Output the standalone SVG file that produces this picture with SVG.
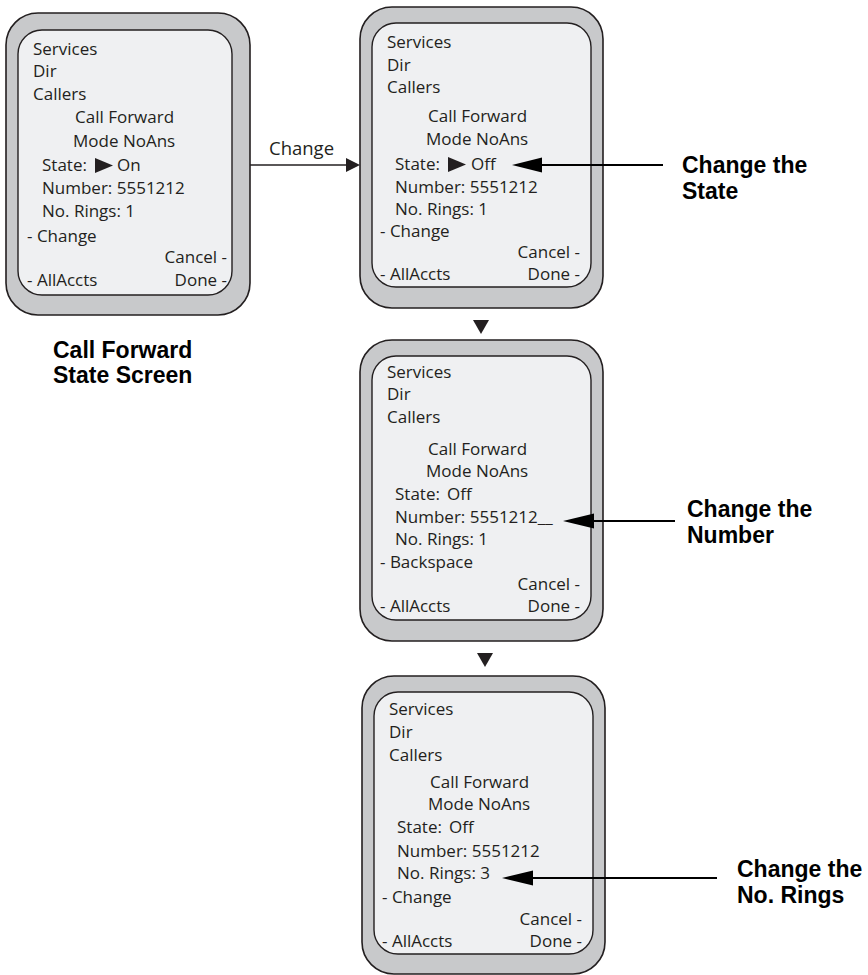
<svg xmlns="http://www.w3.org/2000/svg" width="868" height="975" viewBox="0 0 868 975">
<style>
.outer{fill:#c8c9cb;stroke:#231f20;stroke-width:1.6}
.inner{fill:#eff0f2;stroke:#231f20;stroke-width:1.4}
.t{font-family:"Open Sans","Liberation Sans",sans-serif;font-size:17px;fill:#231f20}
.r{text-anchor:end}
.lbl{font-family:"Liberation Sans",Arial,sans-serif;font-weight:bold;font-size:23px;fill:#000}
.ln{stroke:#000;stroke-width:2;fill:none}
.hd{fill:#000}
.tri{fill:#231f20}
</style>
<rect width="868" height="975" fill="#fff"/>

<g id="phone1" transform="translate(6,13)">
<rect class="outer" x="0" y="0" width="244" height="302" rx="32"/>
<rect class="inner" x="12" y="17" width="214" height="265" rx="24"/>
<text class="t" x="27" y="42">Services</text>
<text class="t" x="27" y="64">Dir</text>
<text class="t" x="27" y="87">Callers</text>
<text class="t" x="69" y="110">Call Forward</text>
<text class="t" x="67" y="134">Mode NoAns</text>
<text class="t" x="36" y="158">State:</text>
<polygon class="tri" points="89,145 89,160 107,152.5"/>
<text class="t" x="111" y="158">On</text>
<text class="t" x="36" y="181">Number: 5551212</text>
<text class="t" x="36" y="204">No. Rings: 1</text>
<text class="t" x="21" y="229">- Change</text>
<text class="t r" x="221" y="250">Cancel -</text>
<text class="t" x="21" y="273">- AllAccts</text>
<text class="t r" x="221" y="273">Done -</text>
</g>

<g id="phone2" transform="translate(360,7)">
<rect class="outer" x="0" y="0" width="243" height="301" rx="32"/>
<rect class="inner" x="12" y="16" width="219" height="264" rx="24"/>
<text class="t" x="27" y="41">Services</text>
<text class="t" x="27" y="64">Dir</text>
<text class="t" x="27" y="86">Callers</text>
<text class="t" x="68" y="115">Call Forward</text>
<text class="t" x="66" y="138">Mode NoAns</text>
<text class="t" x="35" y="163">State:</text>
<polygon class="tri" points="88,150 88,165 106,157.5"/>
<text class="t" x="111" y="163">Off</text>
<text class="t" x="35" y="186">Number: 5551212</text>
<text class="t" x="35" y="208">No. Rings: 1</text>
<text class="t" x="20" y="230">- Change</text>
<text class="t r" x="220" y="251">Cancel -</text>
<text class="t" x="20" y="273">- AllAccts</text>
<text class="t r" x="220" y="273">Done -</text>
</g>

<g id="phone3" transform="translate(360,340)">
<rect class="outer" x="0" y="0" width="243" height="301" rx="32"/>
<rect class="inner" x="12" y="16" width="219" height="264" rx="24"/>
<text class="t" x="27" y="38">Services</text>
<text class="t" x="27" y="60">Dir</text>
<text class="t" x="27" y="83">Callers</text>
<text class="t" x="68" y="115">Call Forward</text>
<text class="t" x="66" y="137">Mode NoAns</text>
<text class="t" x="35" y="160">State:</text>
<text class="t" x="87" y="160">Off</text>
<text class="t" x="35" y="183">Number: 5551212__</text>
<text class="t" x="35" y="205">No. Rings: 1</text>
<text class="t" x="20" y="228">- Backspace</text>
<text class="t r" x="220" y="250">Cancel -</text>
<text class="t" x="20" y="272">- AllAccts</text>
<text class="t r" x="220" y="272">Done -</text>
</g>

<g id="phone4" transform="translate(362,676)">
<rect class="outer" x="0" y="0" width="243" height="298" rx="32"/>
<rect class="inner" x="12" y="16" width="219" height="262" rx="24"/>
<text class="t" x="27" y="39">Services</text>
<text class="t" x="27" y="62">Dir</text>
<text class="t" x="27" y="85">Callers</text>
<text class="t" x="68" y="112">Call Forward</text>
<text class="t" x="66" y="134">Mode NoAns</text>
<text class="t" x="35" y="157">State:</text>
<text class="t" x="87" y="157">Off</text>
<text class="t" x="35" y="181">Number: 5551212</text>
<text class="t" x="35" y="203">No. Rings: 3</text>
<text class="t" x="20" y="227">- Change</text>
<text class="t r" x="220" y="249">Cancel -</text>
<text class="t" x="20" y="271">- AllAccts</text>
<text class="t r" x="220" y="271">Done -</text>
</g>

<g id="connectors">
<line x1="250" y1="165" x2="348" y2="165" stroke="#231f20" stroke-width="1.6"/>
<polygon class="tri" points="346,158 360,165 346,172"/>
<text class="t" x="269" y="155" style="font-size:18.5px">Change</text>
<polygon class="tri" points="473,320 489,320 481,334"/>
<polygon class="tri" points="477,653 493,653 485,667"/>
<line class="ln" x1="540" y1="165" x2="663" y2="165"/>
<polygon class="hd" points="512,165 542,157.5 542,172.5"/>
<line class="ln" x1="592" y1="521" x2="675" y2="521"/>
<polygon class="hd" points="563,521 594,513.5 594,528.5"/>
<line class="ln" x1="531" y1="878" x2="717" y2="878"/>
<polygon class="hd" points="502,878 533,870.5 533,885.5"/>
</g>

<g id="labels">
<text class="lbl" x="682" y="173">Change the</text>
<text class="lbl" x="682" y="199">State</text>
<text class="lbl" x="687" y="517">Change the</text>
<text class="lbl" x="687" y="543">Number</text>
<text class="lbl" x="737" y="877">Change the</text>
<text class="lbl" x="737" y="903">No. Rings</text>
<text class="lbl" x="53" y="358">Call Forward</text>
<text class="lbl" x="53" y="383">State Screen</text>
</g>
</svg>
